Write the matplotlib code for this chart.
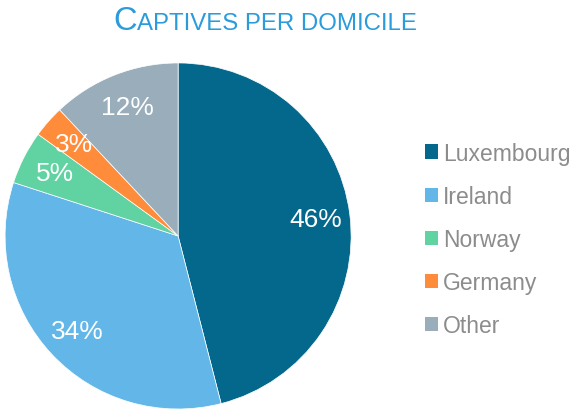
import matplotlib.pyplot as plt
from matplotlib.patches import Patch

plt.rcParams['font.family'] = ['Liberation Sans', 'DejaVu Sans']

# data
domiciles = ['Luxembourg', 'Ireland', 'Norway', 'Germany', 'Other']
shares = [46, 34, 5, 3, 12]
colors = ['#03688C', '#63B7E8', '#61D3A3', '#FF8C3A', '#9AADBB']

fig = plt.figure(figsize=(5.76, 4.10), dpi=100)
ax = fig.add_axes([0.0087, 0.0, 0.601, 0.844])

wedges, texts, autotexts = ax.pie(shares, colors=colors, startangle=90, counterclock=False,
                                  autopct='%1.0f%%', pctdistance=0.8,
                                  wedgeprops=dict(linewidth=0.5, edgecolor='white'),
                                  textprops=dict(color='white', fontsize=19))
ax.set_aspect('equal')
ax.set_xlim(-1, 1)
ax.set_ylim(-1, 1)

# title with small caps look
title_color = '#2A9BDB'
fig.text(0.238, 0.927, 'C', fontsize=23.5, color=title_color, ha='right', va='baseline')
fig.text(0.238, 0.927, 'APTIVES PER DOMICILE', fontsize=17.3, color=title_color, ha='left', va='baseline')

handles = [Patch(facecolor=c, edgecolor='none') for c in colors]
fig.legend(handles, domiciles, loc='upper left', bbox_to_anchor=(0.737, 0.652),
           frameon=False, fontsize=16.5, labelcolor='#8C8C8C',
           handlelength=0.58, handleheight=0.58, handletextpad=0.22, labelspacing=0.88,
           borderpad=0, borderaxespad=0)

plt.savefig('out.png', dpi=100)
